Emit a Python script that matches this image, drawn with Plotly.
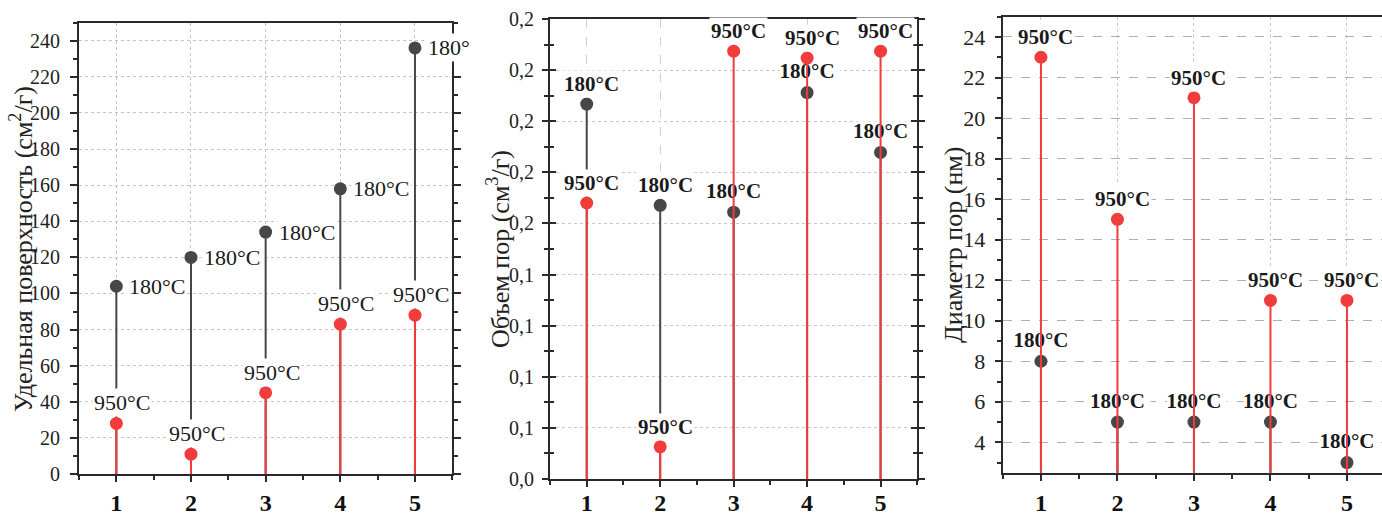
import plotly.graph_objects as go

# ---- data -------------------------------------------------------------
samples = [1, 2, 3, 4, 5]
sample_ticktext = ["1", "2", "3", "4", "5"]

# Удельная поверхность, см²/г
surface_180 = [104, 120, 134, 158, 236]
surface_950 = [28, 11, 45, 83, 88]
surface_180_text = ["180°C", "180°C", "180°C", "180°C", "180°"]
surface_950_text = ["950°C", "950°C", "950°C", "950°C", "950°C"]

# Объем пор, см³/г
volume_180 = [0.163, 0.119, 0.116, 0.168, 0.142]
volume_950 = [0.120, 0.014, 0.186, 0.183, 0.186]
volume_tickvals = [0.0, 0.0222, 0.0444, 0.0667, 0.0889, 0.1111, 0.1333, 0.1556, 0.1778, 0.2]
volume_ticktext = ["0,0", "0,1", "0,1", "0,1", "0,1", "0,2", "0,2", "0,2", "0,2", "0,2"]

# Диаметр пор, нм
diameter_180 = [8, 5, 5, 5, 3]
diameter_950 = [23, 15, 21, 11, 11]

label_180 = "180°C"
label_950 = "950°C"

# ---- style ------------------------------------------------------------
SERIF = "Liberation Serif"
GRAY = "#474747"
RED = "#F23B3B"
AXIS = "#2a2a2a"
W, H = 1382, 516


def px_x(p):
    return p / W


def px_y(p):
    return 1 - p / H


fig = go.Figure()


def stems(xs, ys):
    sx, sy = [], []
    for x, y in zip(xs, ys):
        sx += [x, x, None]
        sy += [0, y, None]
    return sx, sy


panels = [
    dict(xa="x", ya="y", g=surface_180, r=surface_950, bold=False, side=True),
    dict(xa="x2", ya="y2", g=volume_180, r=volume_950, bold=True, side=False),
    dict(xa="x3", ya="y3", g=diameter_180, r=diameter_950, bold=True, side=False),
]

annotations = []
shapes = []

for i, p in enumerate(panels):
    xa, ya = p["xa"], p["ya"]
    xref, yref = xa, ya
    weight = "bold" if p["bold"] else "normal"
    font = dict(family=SERIF, size=21 if p["bold"] else 22, color="#1a1a1a", weight=weight)

    # 180 °C labels that sit on a red stem are drawn in the data layer,
    # so that the red stem passes over them
    crossed = [(not p["side"]) and (g < r) for g, r in zip(p["g"], p["r"])]

    sx, sy = stems(samples, p["g"])
    fig.add_trace(go.Scatter(x=sx, y=sy, xaxis=xa, yaxis=ya, mode="lines",
                             line=dict(color=GRAY, width=2), hoverinfo="skip"))
    fig.add_trace(go.Scatter(x=samples, y=p["g"], xaxis=xa, yaxis=ya, mode="markers",
                             marker=dict(color=GRAY, size=13)))
    cx = [x for x, c in zip(samples, crossed) if c]
    cy = [g for g, c in zip(p["g"], crossed) if c]
    if cx:
        fig.add_trace(go.Scatter(
            x=cx, y=cy, xaxis=xa, yaxis=ya, mode="markers+text",
            marker=dict(color=GRAY, size=13, opacity=0),
            text=[label_180] * len(cx), textposition="top center", textfont=font,
            hoverinfo="skip"))
    sx, sy = stems(samples, p["r"])
    fig.add_trace(go.Scatter(x=sx, y=sy, xaxis=xa, yaxis=ya, mode="lines",
                             line=dict(color=RED, width=2), hoverinfo="skip"))
    fig.add_trace(go.Scatter(x=samples, y=p["r"], xaxis=xa, yaxis=ya, mode="markers",
                             marker=dict(color=RED, size=13)))

    for k, (x, g, r) in enumerate(zip(samples, p["g"], p["r"])):
        if p["side"]:
            annotations.append(dict(x=x, y=g, xref=xref, yref=yref, text=surface_180_text[k],
                                    showarrow=False, xanchor="left", yanchor="middle",
                                    xshift=11, yshift=0, font=font, bgcolor="white",
                                    borderpad=1))
            annotations.append(dict(x=x, y=r, xref=xref, yref=yref, text=surface_950_text[k],
                                    showarrow=False, xanchor="center", yanchor="bottom",
                                    xshift=6, yshift=6, font=font, bgcolor="white",
                                    borderpad=1))
            continue
        if crossed[k]:
            shapes.append(dict(type="rect", layer="between", xref=xref, yref=yref,
                               xsizemode="pixel", ysizemode="pixel", xanchor=x, yanchor=g,
                               x0=-27, x1=33, y0=9, y1=31,
                               fillcolor="white", line=dict(width=0)))
        else:
            annotations.append(dict(x=x, y=g, xref=xref, yref=yref, text=label_180,
                                    showarrow=False, xanchor="center", yanchor="bottom",
                                    xshift=5, yshift=6, font=font, bgcolor="white",
                                    borderpad=1))
        annotations.append(dict(x=x, y=r, xref=xref, yref=yref, text=label_950,
                                showarrow=False, xanchor="center", yanchor="bottom",
                                xshift=5, yshift=6, font=font, bgcolor="white",
                                borderpad=1))

# empty trace carrying the inner tick marks of the middle panel
fig.add_trace(go.Scatter(x=[None], y=[None], xaxis="x2", yaxis="y4"))

# axis titles
title_font = dict(family=SERIF, size=26, color="#222")
annotations += [
    dict(x=px_x(22), y=px_y(249), xref="paper", yref="paper", textangle=-90,
         xanchor="center", yanchor="middle",
         text="Удельная поверхность (см<sup>2</sup>/г)", showarrow=False, font=title_font),
    dict(x=px_x(499), y=px_y(249), xref="paper", yref="paper", textangle=-90,
         xanchor="center", yanchor="middle",
         text="Объем пор (см<sup>3</sup>/г)", showarrow=False, font=title_font),
    dict(x=px_x(954), y=px_y(245), xref="paper", yref="paper", textangle=-90,
         xanchor="center", yanchor="middle",
         text="Диаметр пор (нм)", showarrow=False, font=title_font),
]

tick_font_y = dict(family=SERIF, size=20, color="#222")
tick_font_x = dict(family=SERIF, size=24, color="#111", weight="bold")


def xaxis(domain, rng, griddash, gridcolor, standoff):
    return dict(domain=domain, range=rng, tickvals=samples, ticktext=sample_ticktext,
                tickfont=tick_font_x, ticks="outside", ticklen=6, tickwidth=1.5,
                tickcolor=AXIS, showline=True, linecolor=AXIS, linewidth=2,
                mirror=True, showgrid=True, gridcolor=gridcolor, griddash=griddash,
                gridwidth=1, zeroline=False, ticklabelstandoff=standoff, automargin=False,
                minor=dict(dtick=0.5, tick0=0.5, ticks="outside", ticklen=4,
                           tickwidth=1.5, tickcolor=AXIS, showgrid=False))


mid_minor = [(a + b) / 2 for a, b in zip(volume_tickvals[:-1], volume_tickvals[1:])]

fig.update_layout(
    width=W, height=H, margin=dict(l=0, r=0, t=0, b=0, pad=0, autoexpand=False),
    paper_bgcolor="white", plot_bgcolor="white",
    showlegend=False,
    xaxis=xaxis([px_x(79), px_x(452.3)], [0.5, 5.5], "dot", "#c4c4c4", 0) | dict(anchor="y"),
    yaxis=dict(domain=[px_y(474), px_y(22.7)], range=[0, 250], anchor="x",
               tickvals=list(range(0, 241, 20)), tickfont=tick_font_y,
               ticks="outside", ticklen=7, tickwidth=1.5, tickcolor=AXIS,
               showline=True, linecolor=AXIS, linewidth=2, mirror="ticks",
               showgrid=True, gridcolor="#c4c4c4", griddash="dot", zeroline=False,
               ticklabelstandoff=6, automargin=False,
               minor=dict(dtick=10, ticks="outside", ticklen=4, tickwidth=1.5,
                          tickcolor=AXIS, showgrid=False)),
    xaxis2=xaxis([px_x(550), px_x(917.3)], [0.5, 5.5], "dash", "#d0d0d0", -5) | dict(anchor="y2"),
    yaxis2=dict(domain=[px_y(479), px_y(19)], range=[0, 0.2], anchor="x2",
                tickvals=volume_tickvals, ticktext=volume_ticktext, tickfont=tick_font_y,
                ticks="outside", ticklen=6, tickwidth=1.5, tickcolor=AXIS,
                showline=True, linecolor=AXIS, linewidth=2, mirror="ticks",
                showgrid=True, gridcolor="#c8c8c8", griddash="dot", zeroline=False,
                ticklabelstandoff=4, automargin=False,
                minor=dict(tickvals=mid_minor, ticks="outside", ticklen=4, tickwidth=1.5,
                           tickcolor=AXIS, showgrid=False)),
    yaxis4=dict(domain=[px_y(479), px_y(19)], range=[0, 0.2], anchor="x2", overlaying="y2",
                tickvals=volume_tickvals, showticklabels=False,
                ticks="inside", ticklen=6, tickwidth=1.5, tickcolor=AXIS,
                showline=False, mirror="ticks", showgrid=False, zeroline=False,
                automargin=False,
                minor=dict(tickvals=mid_minor, ticks="inside", ticklen=4, tickwidth=1.5,
                           tickcolor=AXIS, showgrid=False)),
    xaxis3=xaxis([px_x(1002.7), 1.0], [0.5, 5.458], "dot", "#c8c8c8", 1) | dict(anchor="y3"),
    yaxis3=dict(domain=[px_y(472.7), px_y(16.7)], range=[2.5, 25], anchor="x3",
                tickvals=list(range(4, 25, 2)), tickfont=dict(family=SERIF, size=22, color="#222"),
                ticks="outside", ticklen=6, tickwidth=1.5, tickcolor=AXIS,
                showline=True, linecolor=AXIS, linewidth=2, mirror=False,
                showgrid=True, gridcolor="#b0b0b0", griddash="dash", zeroline=False,
                ticklabelstandoff=5, automargin=False,
                minor=dict(dtick=1, tick0=0, ticks="outside", ticklen=4, tickwidth=1.5,
                           tickcolor=AXIS, showgrid=False)),
    annotations=annotations,
    shapes=shapes,
)

fig.write_html("out.html")
